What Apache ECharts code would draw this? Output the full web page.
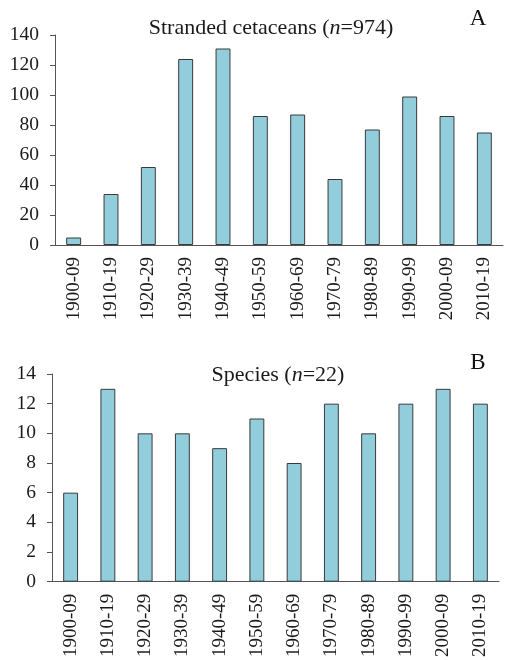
<!DOCTYPE html>
<html>
<head>
<meta charset="utf-8">
<script src="https://cdn.jsdelivr.net/npm/echarts@6/dist/echarts.min.js"></script>
<style>
  html, body { margin: 0; padding: 0; background: #fff; }
  #main { width: 505px; height: 660px; }
</style>
</head>
<body>
<div id="main"></div>
<script>
// decades shared by both panels
const decades = ['1900-09', '1910-19', '1920-29', '1930-39', '1940-49', '1950-59',
  '1960-69', '1970-79', '1980-89', '1990-99', '2000-09', '2010-19'];
// panel A: stranded cetaceans per decade
const strandings = [5, 34, 52, 124, 131, 86, 87, 44, 77, 99, 86, 75];
// panel B: number of species per decade
const species = [6, 13, 10, 10, 9, 11, 8, 12, 10, 12, 13, 12];

const serif = 'Liberation Serif';
const barColor = '#92cddc';
const edge = '#3a3a3a';
const ink = '#1a1a1a';

const chartDom = document.getElementById('main');
const myChart = echarts.init(chartDom);

const xAxisBase = {
  type: 'category',
  data: decades,
  axisLine: { lineStyle: { color: '#555', width: 1 } },
  axisTick: { length: 5, lineStyle: { color: '#555' } },
  axisLabel: { rotate: 90, fontFamily: serif, fontSize: 19, color: ink, margin: 12 }
};
const yAxisBase = {
  type: 'value',
  min: 0,
  axisLine: { show: true, lineStyle: { color: '#555', width: 1 } },
  axisTick: { show: true, length: 5, lineStyle: { color: '#555' } },
  axisLabel: { fontFamily: serif, fontSize: 19.5, color: ink, margin: 16 },
  splitLine: { show: false }
};
const titleRich = {
  r: { fontFamily: serif, fontSize: 22, color: ink, fontWeight: 'normal' },
  i: { fontFamily: serif, fontSize: 22, color: ink, fontWeight: 'normal', fontStyle: 'italic' }
};

const option = {
  animation: false,
  title: [
    { text: '{r|Stranded cetaceans (}{i|n}{r|=974)}', left: 266, top: 12, textAlign: 'center',
      textStyle: { fontWeight: 'normal', rich: titleRich } },
    { text: 'A', left: 473, top: 2, textAlign: 'center',
      textStyle: { fontFamily: serif, fontSize: 23, fontWeight: 'normal', color: '#111' } },
    { text: '{r|Species (}{i|n}{r|=22)}', left: 273, top: 359, textAlign: 'center',
      textStyle: { fontWeight: 'normal', rich: titleRich } },
    { text: 'B', left: 473, top: 346, textAlign: 'center',
      textStyle: { fontFamily: serif, fontSize: 23, fontWeight: 'normal', color: '#111' } }
  ],
  grid: [
    { left: 55, right: 2, top: 35, height: 210 },
    { left: 52, right: 6, top: 374, height: 210 }
  ],
  xAxis: [
    Object.assign({ gridIndex: 0 }, xAxisBase),
    Object.assign({ gridIndex: 1 }, xAxisBase)
  ],
  yAxis: [
    Object.assign({ gridIndex: 0, max: 140, interval: 20 }, yAxisBase),
    Object.assign({ gridIndex: 1, max: 14, interval: 2 }, yAxisBase)
  ],
  series: [
    {
      type: 'bar', xAxisIndex: 0, yAxisIndex: 0, data: strandings, barWidth: '40%',
      itemStyle: { color: barColor, borderColor: edge, borderWidth: 1 }
    },
    {
      type: 'bar', xAxisIndex: 1, yAxisIndex: 1, data: species, barWidth: '40%',
      itemStyle: { color: barColor, borderColor: edge, borderWidth: 1 }
    }
  ]
};

option && myChart.setOption(option);
</script>
</body>
</html>
